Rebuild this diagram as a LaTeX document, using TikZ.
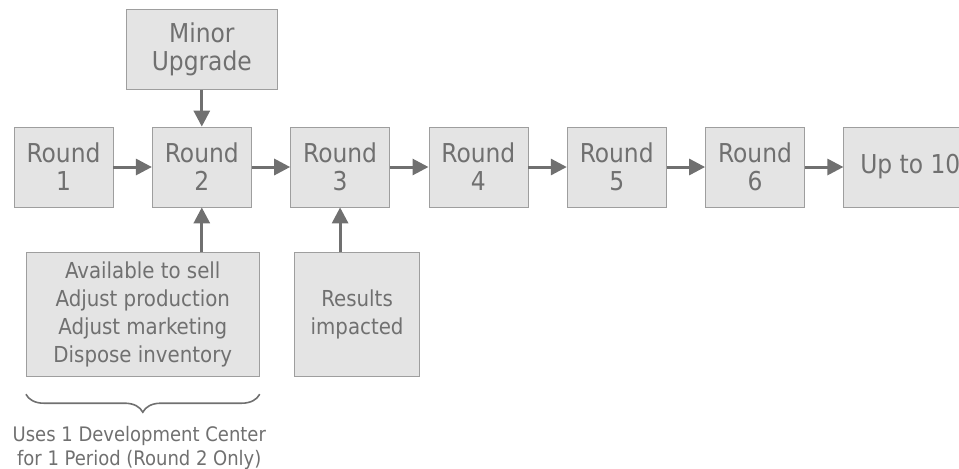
\documentclass[tikz,border=0pt]{standalone}
\usepackage{fontspec}
\setmainfont{DejaVu Sans Condensed}
\usepackage{tikz}
\usetikzlibrary{arrows.meta,positioning,decorations.pathreplacing}
\definecolor{boxgray}{RGB}{228,228,228}
\definecolor{edgegray}{RGB}{158,158,158}
\definecolor{inkgray}{RGB}{112,112,112}

\begin{document}
\begin{tikzpicture}[
x=0.5pt, y=-0.5pt,
node distance=19.25pt,
roundbox/.style={draw=edgegray, fill=boxgray, text=inkgray, minimum width=49.5pt, minimum height=40pt, align=center, inner sep=0pt, font=\fontsize{13}{14}\selectfont},
sidebox/.style={roundbox, font=\fontsize{11}{14}\selectfont, minimum height=62pt},
notetext/.style={text=inkgray, align=center, inner sep=0pt, font=\fontsize{10}{12}\selectfont},
arrow/.style={-{Triangle[length=8pt, width=8pt]}, line width=1.5pt, inkgray},
brace/.style={decorate, decoration={brace, mirror, amplitude=9pt, raise=8.5pt}, line width=0.8pt, inkgray}
]
\path[use as bounding box, clip] (0,0) rectangle (959,468);

\node[roundbox] (round1) at (63.5,167) {Round\\1};
\node[roundbox, right=of round1] (round2) {Round\\2};
\node[roundbox, right=of round2] (round3) {Round\\3};
\node[roundbox, right=of round3] (round4) {Round\\4};
\node[roundbox, right=of round4] (round5) {Round\\5};
\node[roundbox, right=of round5] (round6) {Round\\6};
\node[roundbox, right=of round6, minimum width=66.5pt] (upto) {Up to 10};
\node[roundbox, above=18.5pt of round2, minimum width=75.5pt] (minor) {Minor\\Upgrade};
\node[sidebox, below=22.5pt of round2, xshift=-29.5pt, minimum width=116.5pt] (avail) {Available to sell\\Adjust production\\Adjust marketing\\Dispose inventory};
\node[sidebox, below=22.5pt of round3, xshift=8.5pt, minimum width=62.5pt] (results) {Results\\impacted};
\node[notetext, below=24.5pt of avail, xshift=-1.75pt] (devnote) {Uses 1 Development Center\\for 1 Period (Round 2 Only)};

\draw[arrow] (round1) -- (round2);
\draw[arrow] (round2) -- (round3);
\draw[arrow] (round3) -- (round4);
\draw[arrow] (round4) -- (round5);
\draw[arrow] (round5) -- (round6);
\draw[arrow] (round6) -- (upto);
\draw[arrow] (minor) -- (round2);
\draw[arrow] (avail.north -| round2) -- (round2.south);
\draw[arrow] (results.north -| round3) -- (round3.south);
\draw[brace] (avail.south west) -- (avail.south east);
\end{tikzpicture}
\end{document}
